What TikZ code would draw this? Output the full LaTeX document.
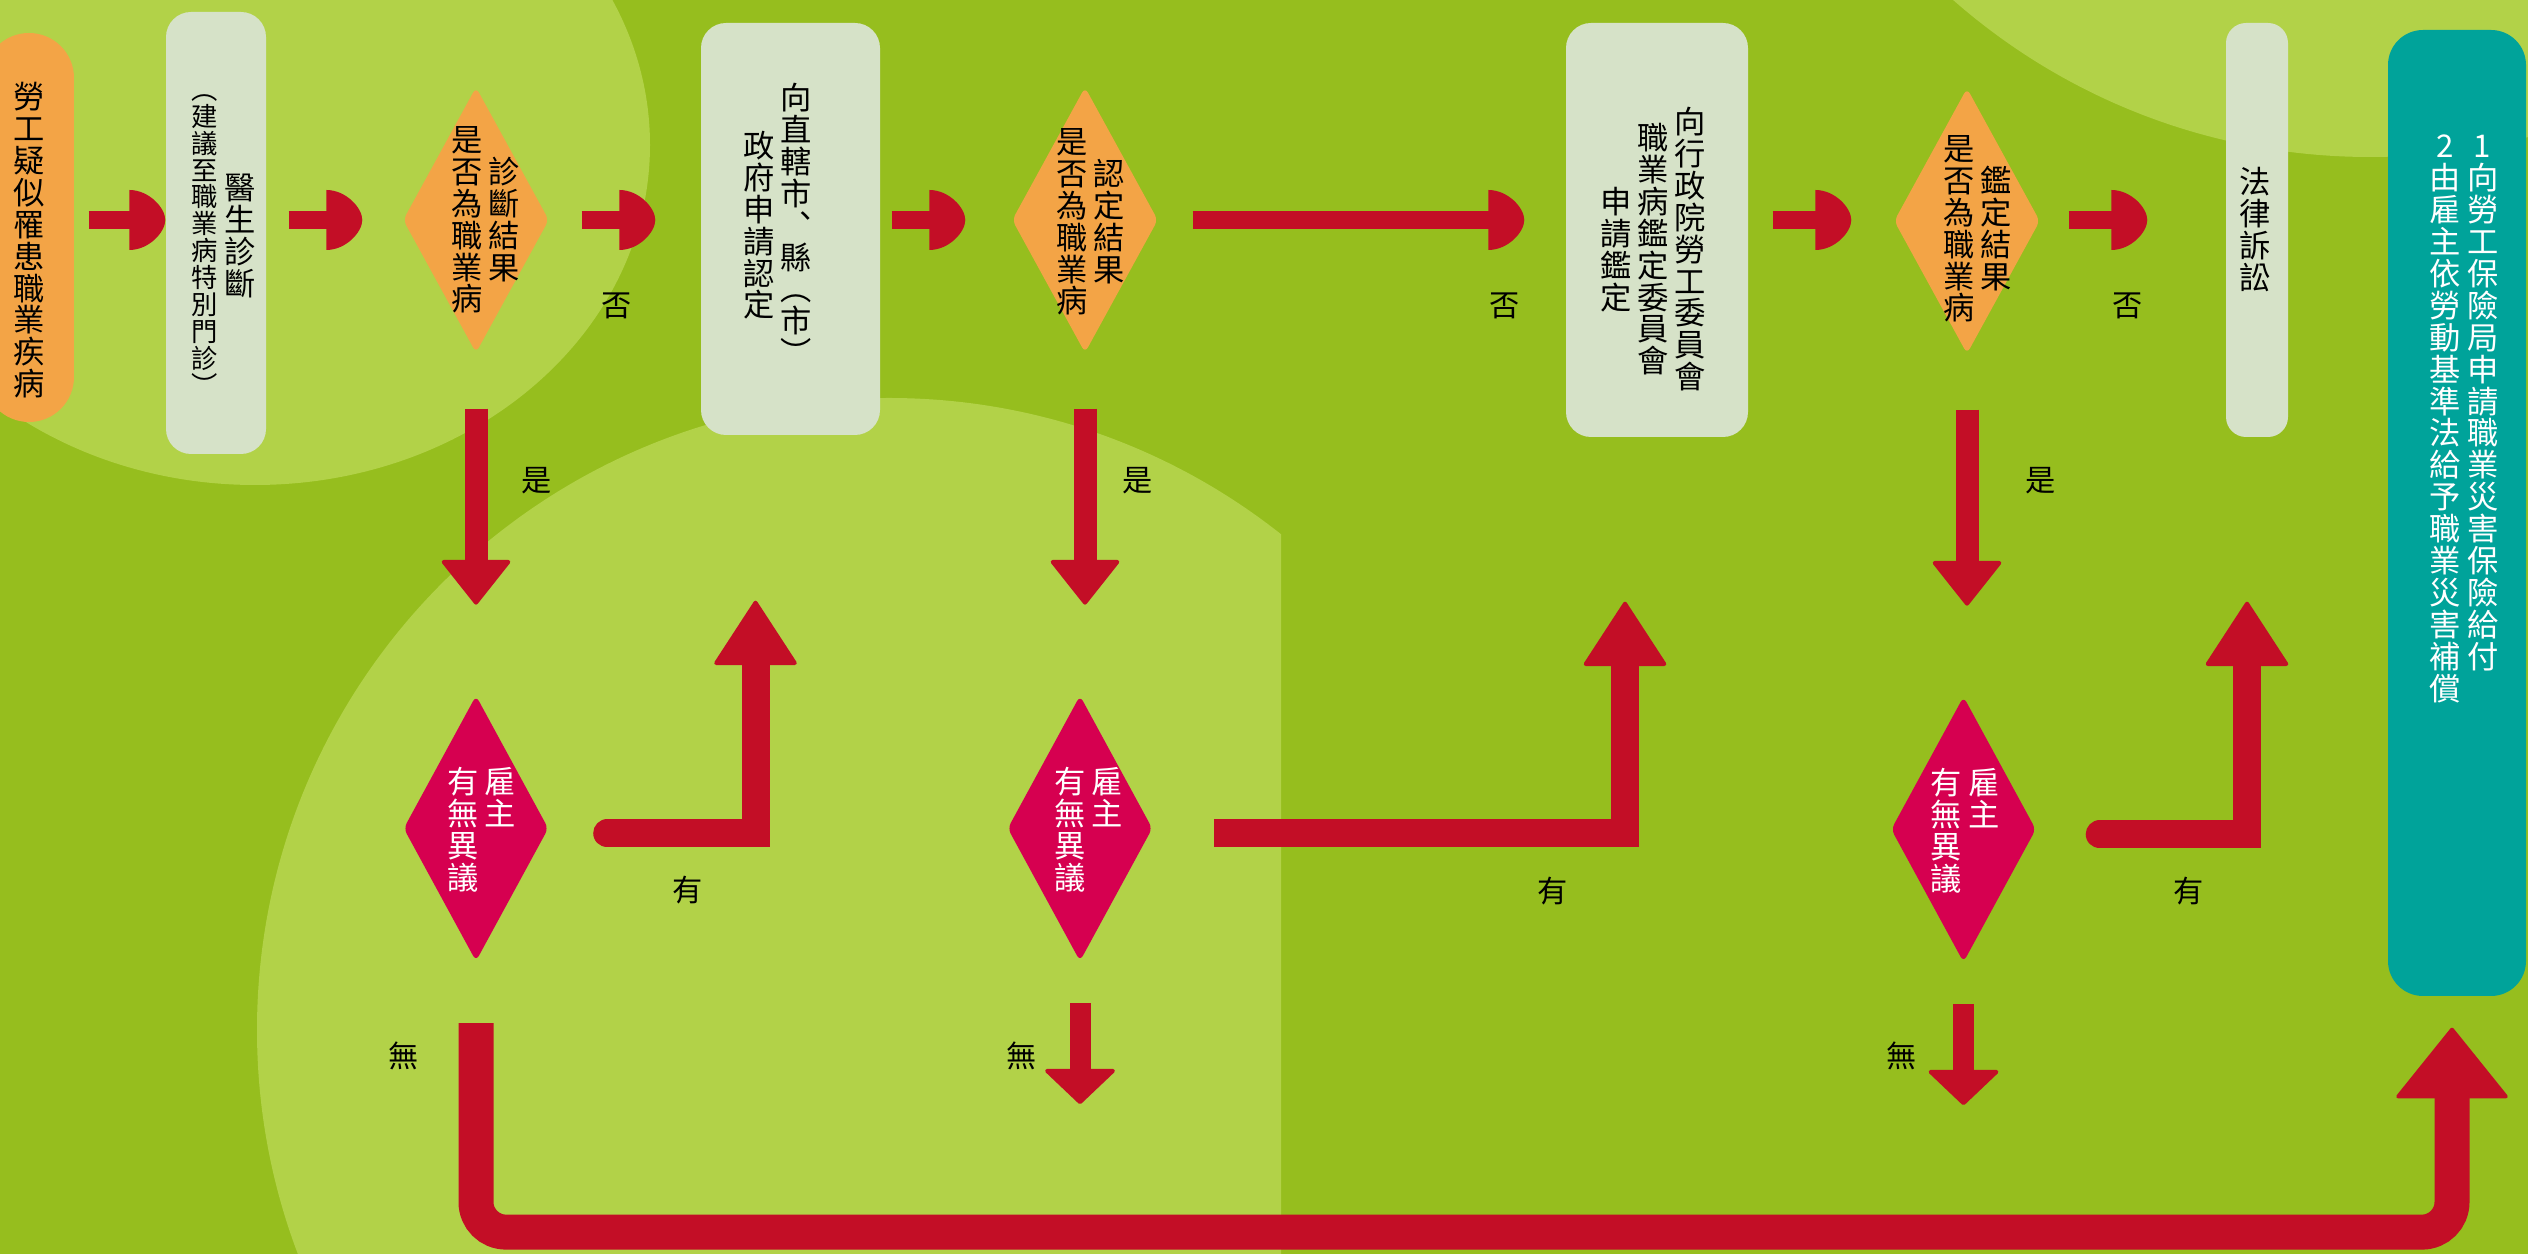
\documentclass[tikz,border=0pt]{standalone}
\usepackage{fontspec}
\setmainfont{Noto Sans CJK TC}
\usepackage{xcolor}
\definecolor{dgreen}{RGB}{150,190,30}
\definecolor{lgreen}{RGB}{178,210,72}
\definecolor{pale}{RGB}{214,226,200}
\definecolor{dorange}{RGB}{243,164,70}
\definecolor{ared}{RGB}{195,14,38}
\definecolor{dred}{RGB}{214,0,80}
\definecolor{tgreen}{RGB}{0,163,154}
\usepackage{tikz}
\usetikzlibrary{arrows.meta,shapes.geometric,positioning,calc}

% rounded head for the short arrows
\pgfdeclarearrow{
  name = Dome,
  defaults = {length = 3pt, width = 6pt},
  setup code = {
    \pgfarrowssettipend{\pgfarrowlength}
    \pgfarrowssetlineend{.5\pgfarrowlength}
    \pgfarrowssetvisualbackend{0pt}
    \pgfarrowssetbackend{0pt}
    \pgfarrowsupperhullpoint{0pt}{.5\pgfarrowwidth}
    \pgfarrowsupperhullpoint{\pgfarrowlength}{0pt}
    \pgfarrowssavethe\pgfarrowlength
    \pgfarrowssavethe\pgfarrowwidth
  },
  drawing code = {
    \pgfpathmoveto{\pgfqpoint{0pt}{.5\pgfarrowwidth}}
    \pgfpathcurveto{\pgfqpoint{.55\pgfarrowlength}{.5\pgfarrowwidth}}{\pgfqpoint{\pgfarrowlength}{.2\pgfarrowwidth}}{\pgfqpoint{\pgfarrowlength}{0pt}}
    \pgfpathcurveto{\pgfqpoint{\pgfarrowlength}{-.2\pgfarrowwidth}}{\pgfqpoint{.55\pgfarrowlength}{-.5\pgfarrowwidth}}{\pgfqpoint{0pt}{-.5\pgfarrowwidth}}
    \pgfpathclose
    \pgfusepathqfill
  },
  parameters = {\the\pgfarrowlength,\the\pgfarrowwidth},
}

\makeatletter
\newcommand\vchars[1]{\@tfor\vc@ch:=#1\do{\hbox to 1em{\hss\vrule height .9em depth .12em width 0pt\vc@ch\hss}}}
\makeatother
\newcommand\vcol[1]{$\vcenter{\offinterlineskip\vchars{#1}}$}
\newcommand\vtcol[1]{\vtop{\offinterlineskip\vchars{#1}}}
\newcommand\cgap{\kern.06cm}

\begin{document}
\begin{tikzpicture}[
  x=1cm,y=1cm,
  pbox/.style={rectangle,fill=pale,rounded corners=0.25cm,inner sep=0pt},
  obox/.style={rectangle,fill=dorange,rounded corners=0.45cm,inner sep=0pt},
  odia/.style={diamond,fill=dorange,inner sep=0pt,minimum width=1.46cm,minimum height=2.66cm,rounded corners=0.06cm},
  rdia/.style={diamond,fill=dred,inner sep=0pt,minimum width=1.45cm,minimum height=2.66cm,rounded corners=0.06cm},
  vtxt/.style={inner sep=0pt,font=\fontsize{8.9}{10}\selectfont},
  wtxt/.style={vtxt,text=white},
  lbl/.style={inner sep=0pt,font=\fontsize{8.6}{10}\selectfont},
  harrow/.style={ared,line width=0.18cm,-{Dome[length=0.36cm,width=0.60cm]}},
  varrow/.style={ared,line width=0.23cm,-{Triangle[length=0.46cm,width=0.72cm,line width=0.04cm,round]}},
  narrow/.style={ared,line width=0.21cm,-{Triangle[length=0.36cm,width=0.75cm,line width=0.04cm,round]}},
  uarrow/.style={ared,line width=0.28cm,-{Triangle[length=0.66cm,width=0.85cm,line width=0.04cm,round]}},
  barrow/.style={ared,line width=0.35cm,-{Triangle[length=0.72cm,width=1.15cm,line width=0.04cm,round]}}
]
  % Background
  \useasboundingbox (0,0) rectangle (25.28,-12.54);
  \clip (0,0) rectangle (25.28,-12.54);
  \fill[dgreen] (0,0) rectangle (25.28,-12.54);
  \fill[lgreen] (2.55,-1.45) ellipse [x radius=3.95, y radius=3.40];
  \fill[lgreen] (23.70,4.75) circle (6.32);
  \begin{scope}
    \clip (0,0) rectangle (12.81,-12.54);
    \fill[lgreen] (8.89,-10.30) circle (6.32);
  \end{scope}

  % Top row
  \node[obox,minimum width=0.90cm,minimum height=3.89cm] (start) at (0.29,-2.275) {};
  \node[vtxt] (starttxt) at (0.29,-2.40) {\vcol{勞工疑似罹患職業疾病}};

  \node[pbox,minimum width=1.00cm,minimum height=4.42cm] (doc) at (2.16,-2.33) {};
  \node[vtxt] (doctxt) at (2.235,-2.37) {{\fontsize{7.5}{9}\selectfont\vcol{︵建議至職業病特別門診︶}}\cgap\vcol{醫生診斷}};

  \node[odia] (d1) at (4.76,-2.20) {};
  \node[vtxt] (d1txt) at (4.855,-2.19) {\vcol{是否為職業病}\cgap\vcol{診斷結果}};

  \node[pbox,minimum width=1.79cm,minimum height=4.12cm] (city) at (7.905,-2.29) {};
  \node[vtxt] (citytxt) at (7.775,-2.25) {\vcol{政府申請認定}\cgap\vcol{向直轄市︑縣︵市︶}};

  \node[odia] (d2) at (10.85,-2.20) {};
  \node[vtxt] (d2txt) at (10.905,-2.21) {\vcol{是否為職業病}\cgap\vcol{認定結果}};

  \node[pbox,minimum width=1.82cm,minimum height=4.14cm] (council) at (16.57,-2.30) {};
  \node[vtxt] (counciltxt) at (16.53,-2.49) {\vcol{申請鑑定}\cgap\vcol{職業病鑑定委員會}\cgap\vcol{向行政院勞工委員會}};

  \node[odia] (d3) at (19.67,-2.21) {};
  \node[vtxt] (d3txt) at (19.775,-2.28) {\vcol{是否為職業病}\cgap\vcol{鑑定結果}};

  \node[pbox,minimum width=0.62cm,minimum height=4.14cm,rounded corners=0.2cm] (court) at (22.57,-2.30) {};
  \node[vtxt] (courttxt) at (22.555,-2.29) {\vcol{法律訴訟}};

  \node[rectangle,fill=tgreen,rounded corners=0.35cm,minimum width=1.38cm,minimum height=9.66cm] (result) at (24.57,-5.13) {};
  \node[wtxt,anchor=north] (resulttxt) at (24.64,-1.29) {\vtcol{2由雇主依勞動基準法給予職業災害補償}\cgap\vtcol{1向勞工保險局申請職業災害保險給付}};

  % Objection
  \node[rdia,below=3.41cm of d1] (e1) {};
  \node[wtxt] (e1txt) at ([xshift=0.055cm,yshift=-0.01cm]e1) {\vtcol{有無異議}\cgap\vtcol{雇主}};
  \node[rdia,below=3.41cm of d2,xshift=-0.05cm] (e2) {};
  \node[wtxt] (e2txt) at ([xshift=0.085cm,yshift=-0.01cm]e2) {\vtcol{有無異議}\cgap\vtcol{雇主}};
  \node[rdia,below=3.41cm of d3,xshift=-0.035cm] (e3) {};
  \node[wtxt] (e3txt) at ([xshift=0.015cm,yshift=-0.01cm]e3) {\vtcol{有無異議}\cgap\vtcol{雇主}};

  % Labels
  \node[lbl] (no1) at (6.17,-3.06) {否};
  \node[lbl] (no2) at (15.05,-3.06) {否};
  \node[lbl] (no3) at (21.28,-3.06) {否};
  \node[lbl] (yes1) at (5.37,-4.81) {是};
  \node[lbl] (yes2) at (11.38,-4.81) {是};
  \node[lbl] (yes3) at (20.41,-4.81) {是};
  \node[lbl] (has1) at (6.88,-8.90) {有};
  \node[lbl] (has2) at (15.53,-8.91) {有};
  \node[lbl] (has3) at (21.89,-8.91) {有};
  \node[lbl] (none1) at (4.04,-10.56) {無};
  \node[lbl] (none2) at (10.22,-10.56) {無};
  \node[lbl] (none3) at (19.02,-10.56) {無};

  % Arrows
  \draw[harrow,shorten <=0.14cm] (start.east |- d1) -- (doc.west |- d1);
  \draw[harrow,shorten <=0.22cm,shorten >=0.40cm] (doc.east |- d1) -- (d1.west);
  \draw[harrow,shorten <=0.32cm,shorten >=0.45cm] (d1.east) -- (city.west |- d1);
  \draw[harrow,shorten <=0.11cm,shorten >=0.46cm] (city.east |- d2) -- (d2.west);
  \draw[harrow,shorten <=0.34cm,shorten >=0.41cm] (d2.east) -- (council.west |- d2);
  \draw[harrow,shorten <=0.24cm,shorten >=0.42cm] (council.east |- d2) -- (d3.west |- d2);
  \draw[harrow,shorten <=0.28cm,shorten >=0.78cm] (d3.east |- d2) -- (court.west |- d2);

  \draw[varrow,shorten <=0.55cm,shorten >=0.90cm] (d1.south) -- (d1.south |- e1.north);
  \draw[varrow,shorten <=0.55cm,shorten >=0.90cm] (d2.south) -- (d2.south |- e2.north);
  \draw[varrow,shorten <=0.55cm,shorten >=0.90cm] (d3.south) -- (d3.south |- e3.north);

  \draw[uarrow,line cap=round] ([xshift=0.58cm,yshift=-0.05cm]e1.east) -| ([xshift=-0.35cm,yshift=-1.65cm]city.south);
  \draw[uarrow] ([xshift=0.61cm,yshift=-0.05cm]e2.east) -| ([xshift=-0.32cm,yshift=-1.64cm]council.south);
  \draw[uarrow,line cap=round] ([xshift=0.63cm,yshift=-0.05cm]e3.east) -| ([xshift=-0.10cm,yshift=-1.64cm]court.south);

  \draw[narrow] ([yshift=-0.41cm]e2.south) -- ++(0,-1.01);
  \draw[narrow] ([yshift=-0.41cm]e3.south) -- ++(0,-1.01);
  \draw[barrow,rounded corners=0.3cm] ([yshift=-0.61cm]e1.south) -- ++(0,-2.09) -| ([xshift=-0.05cm,yshift=-0.31cm]result.south);
\end{tikzpicture}
\end{document}
